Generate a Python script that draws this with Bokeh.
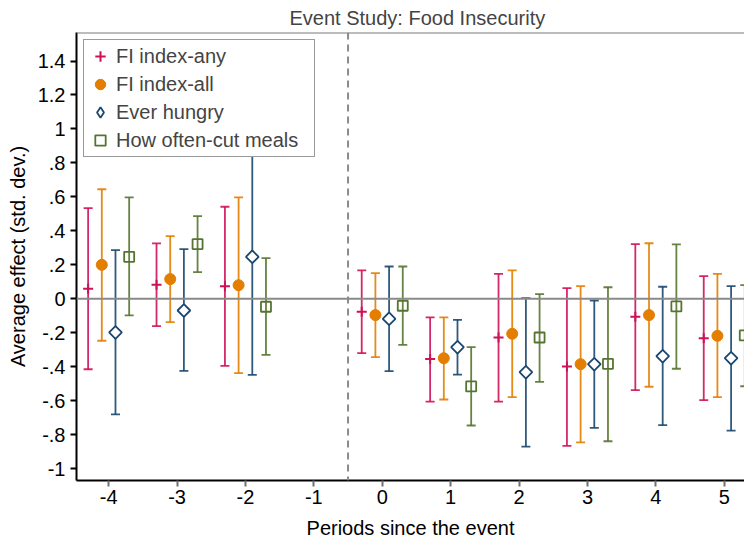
from bokeh.plotting import figure
from bokeh.models import (ColumnDataSource, Whisker, TeeHead, Span, FixedTicker,
                          Legend, LegendItem, Range1d)
from bokeh.embed import file_html
from bokeh.resources import INLINE
import math

# ---------------- data ----------------
periods = [-4, -3, -2, 0, 1, 2, 3, 4, 5]
x_ticks = [-4, -3, -2, -1, 0, 1, 2, 3, 4, 5]
x_tick_labels = ["-4", "-3", "-2", "-1", "0", "1", "2", "3", "4", "5"]
y_ticks = [-1.0, -0.8, -0.6, -0.4, -0.2, 0.0, 0.2, 0.4, 0.6, 0.8, 1.0, 1.2, 1.4]
y_tick_labels = ["-1", "-.8", "-.6", "-.4", "-.2", "0", ".2", ".4", ".6", ".8", "1", "1.2", "1.4"]

series_names = ["FI index-any", "FI index-all", "Ever hungry", "How often-cut meals"]

any_est = [0.059, 0.082, 0.074, -0.077, -0.355, -0.228, -0.399, -0.106, -0.232]
any_lo = [-0.415, -0.161, -0.395, -0.320, -0.605, -0.605, -0.866, -0.538, -0.597]
any_hi = [0.534, 0.326, 0.542, 0.167, -0.110, 0.147, 0.063, 0.322, 0.133]

all_est = [0.200, 0.116, 0.080, -0.096, -0.350, -0.206, -0.385, -0.096, -0.218]
all_lo = [-0.247, -0.138, -0.438, -0.344, -0.593, -0.579, -0.846, -0.518, -0.579]
all_hi = [0.645, 0.369, 0.597, 0.151, -0.110, 0.167, 0.074, 0.327, 0.147]

hungry_est = [-0.198, -0.069, 0.247, -0.118, -0.285, -0.432, -0.385, -0.338, -0.350]
hungry_lo = [-0.681, -0.424, -0.448, -0.426, -0.446, -0.870, -0.760, -0.744, -0.776]
hungry_hi = [0.286, 0.292, 0.942, 0.190, -0.124, 0.004, -0.010, 0.071, 0.074]

cut_est = [0.247, 0.322, -0.047, -0.041, -0.516, -0.228, -0.383, -0.045, -0.216]
cut_lo = [-0.098, 0.157, -0.330, -0.271, -0.746, -0.489, -0.839, -0.412, -0.515]
cut_hi = [0.597, 0.487, 0.239, 0.190, -0.285, 0.027, 0.068, 0.320, 0.080]

# ---------------- style ----------------
FONT = "Liberation Sans"
colors = ["#ce1258", "#e37e00", "#1a476f", "#55752f"]
dodges = [-0.3, -0.1, 0.1, 0.3]
Y_START, Y_END = -1.07, 1.568

p = figure(frame_width=668, frame_height=448, output_backend="svg", toolbar_location=None,
           x_range=Range1d(-4.47, 5.296), y_range=Range1d(Y_START, Y_END),
           min_border_left=76, min_border_right=0, min_border_top=32, min_border_bottom=0,
           title="Event Study: Food Insecurity")

p.title.text_font = FONT
p.title.text_font_size = "20px"
p.title.text_font_style = "normal"
p.title.align = "left"
p.title.standoff = 8
p.title.offset = 213

p.xgrid.visible = False
p.ygrid.visible = False
p.outline_line_color = None

# plot-region top border and reference lines
p.add_layout(Span(location=Y_END, dimension="width", line_color="#7a7a7a", line_width=2))
p.add_layout(Span(location=0, dimension="width", line_color="#8a8a8a", line_width=2))
p.add_layout(Span(location=-0.5, dimension="height", line_color="#8a8a8a",
                  line_width=2, line_dash="7 5"))

data = [(any_est, any_lo, any_hi), (all_est, all_lo, all_hi),
        (hungry_est, hungry_lo, hungry_hi), (cut_est, cut_lo, cut_hi)]

scatter_renderers = []
for k, (est, lo, hi) in enumerate(data):
    xs = [x + dodges[k] for x in periods]
    src = ColumnDataSource(dict(x=xs, est=est, lo=lo, hi=hi))
    w = Whisker(source=src, base="x", upper="hi", lower="lo", dimension="height",
                line_color=colors[k], line_width=1.8, line_alpha=0.9,
                upper_head=TeeHead(size=9, line_color=colors[k], line_width=1.8, line_alpha=0.9),
                lower_head=TeeHead(size=9, line_color=colors[k], line_width=1.8, line_alpha=0.9))
    p.add_layout(w)
    if k == 0:
        r = p.scatter("x", "est", source=src, marker="cross", size=10,
                      line_color=colors[k], line_width=2)
    elif k == 1:
        r = p.scatter("x", "est", source=src, marker="circle", size=11,
                      fill_color=colors[k], line_color=colors[k])
    elif k == 2:
        # diamond used for the legend key (legend glyphs are drawn unrotated);
        # on the plot it sits under the rotated square below
        r = p.scatter("x", "est", source=src, marker="diamond", size=6,
                      fill_color="white", line_color=colors[k], line_width=1.8)
        p.scatter("x", "est", source=src, marker="square", size=9, angle=math.pi / 4,
                  fill_color="white", line_color=colors[k], line_width=1.8)
    else:
        r = p.scatter("x", "est", source=src, marker="square", size=10,
                      fill_color=None, line_color=colors[k], line_width=1.8)
    scatter_renderers.append(r)

# axes
p.xaxis.ticker = FixedTicker(ticks=x_ticks)
p.xaxis.major_label_overrides = {t: s for t, s in zip(x_ticks, x_tick_labels)}
p.yaxis.ticker = FixedTicker(ticks=y_ticks)
p.yaxis.major_label_overrides = {t: s for t, s in zip(y_ticks, y_tick_labels)}
p.yaxis.major_label_orientation = "horizontal"

for ax in (p.xaxis, p.yaxis):
    ax.axis_line_color = "black"
    ax.axis_line_width = 2
    ax.major_tick_line_width = 2
    ax.minor_tick_line_color = None
    ax.major_tick_in = 0
    ax.major_tick_out = 6
    ax.major_label_text_font = FONT
    ax.major_label_text_font_size = "20px"
    ax.major_label_text_color = "black"
    ax.axis_label_text_font = FONT
    ax.axis_label_text_font_size = "20px"
    ax.axis_label_text_font_style = "normal"
    ax.axis_label_text_color = "black"

p.xaxis.major_tick_line_color = "#707070"
p.yaxis.major_tick_line_color = "black"
p.xaxis.major_label_standoff = 3
p.yaxis.major_label_standoff = 5
p.xaxis.axis_label_standoff = 10
p.yaxis.axis_label_standoff = 6
p.xaxis.axis_label = "Periods since the event"
p.yaxis.axis_label = "Average effect (std. dev.)"

legend = Legend(items=[LegendItem(label=n, renderers=[r])
                       for n, r in zip(series_names, scatter_renderers)],
                location="top_left")
legend.margin = 7
legend.padding = 3
legend.spacing = 2
legend.glyph_width = 26
legend.glyph_height = 26
legend.label_height = 26
legend.label_width = 195
legend.label_standoff = 3
legend.label_text_font = FONT
legend.label_text_font_size = "20px"
legend.border_line_color = "#333333"
legend.border_line_width = 1.5
legend.background_fill_color = "white"
legend.background_fill_alpha = 1
p.add_layout(legend)

open("out.html", "w").write(file_html(p, INLINE))
